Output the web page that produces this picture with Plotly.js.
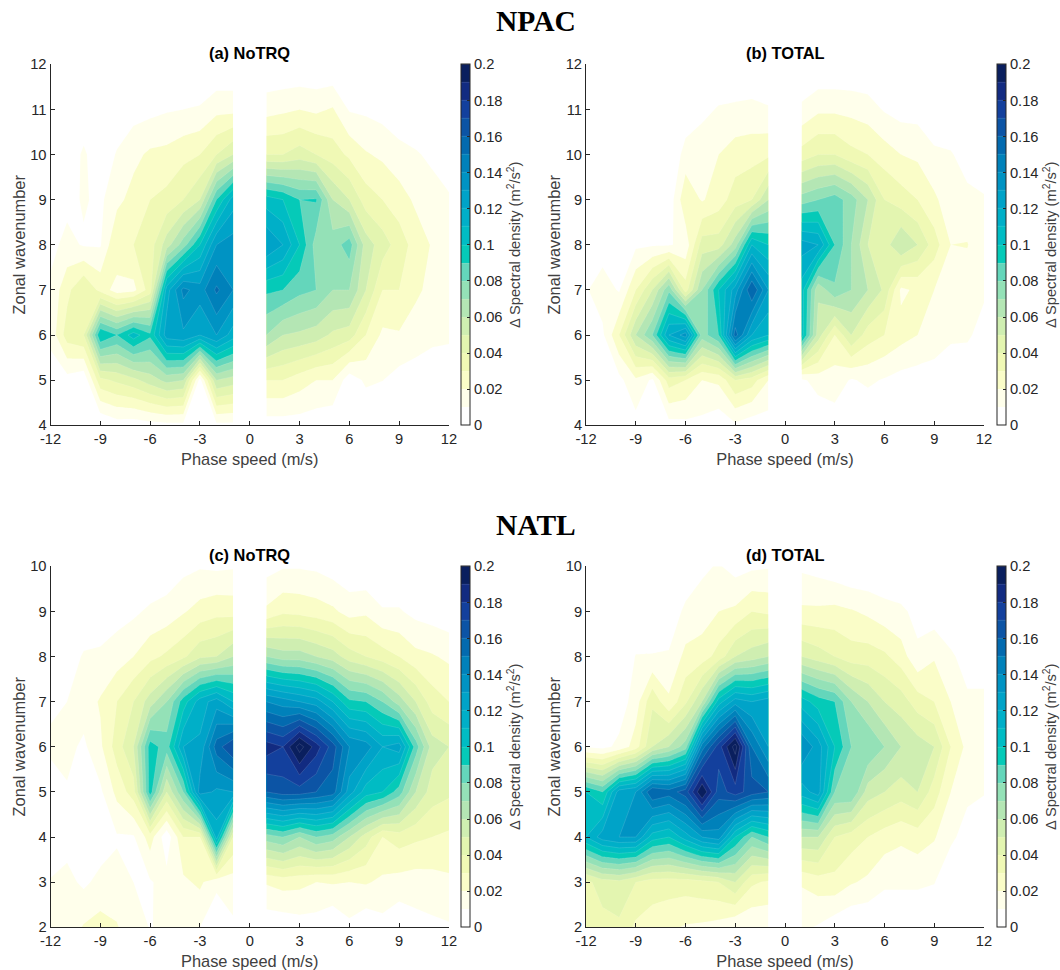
<!DOCTYPE html>
<html><head><meta charset="utf-8">
<script src="https://cdn.plot.ly/plotly-3.0.1.min.js"></script>
<style>html,body{margin:0;padding:0;background:#fff}#chart{width:1060px;height:970px}</style>
</head><body><div id="chart"></div>
<script>
// each row below is one phase-speed column: the values at successive wavenumbers
const speedsWest = [-12,-11,-10,-9,-8,-7,-6,-5,-4,-3,-2,-1];
const speedsEast = [1,2,3,4,5,6,7,8,9,10,11,12];
const waveNpac = [4,5,6,7,8,9,10,11,12];
const waveNatl = [2,3,4,5,6,7,8,9,10];
const levelColors = ['#ffffff','#ffffd9','#f6fbbb','#edf8b1','#dff3b0','#c9ecb2','#aee5b4','#8fe0b8','#5fd5bb','#00c9b8','#00bcc4','#00b0c8','#00a4c8','#0096c4','#0085bc','#0070b2','#0a5aa8','#10479f','#17339a','#0a1f5e','#0a1f5e'];
const barTicks = [0,0.02,0.04,0.06,0.08,0.1,0.12,0.14,0.16,0.18,0.2];
const speedTicks = [-12,-9,-6,-3,0,3,6,9,12];

const npacNoTRQ = [
[0,.004,.013,.012,.007,.003,0,0,0],
[0,.006,.035,.027,.013,.007,.002,0,0],
[0,.002,.04,.04,.009,.011,.012,.002,0],
[0,.037,.1,.027,.009,.008,.002,0,0],
[.005,.042,.09,.015,.03,.017,.011,.002,0],
[.004,.047,.105,.017,.03,.024,.017,.006,0],
[.006,.055,.092,.035,.035,.03,.022,.007,0],
[.007,.063,.125,.115,.055,.033,.023,.009,0],
[.007,.06,.128,.143,.075,.04,.027,.01,0],
[.003,.006,.12,.135,.1,.05,.03,.011,0],
[.007,.06,.13,.152,.13,.09,.04,.017,0],
[.007,.055,.115,.14,.135,.115,.05,.017,0],
[.005,.03,.07,.092,.13,.105,.04,.016,0],
[.005,.03,.06,.09,.12,.1,.04,.018,0],
[.005,.025,.058,.083,.1,.09,.045,.02,0],
[.004,.02,.055,.08,.075,.091,.04,.018,0],
[.002,.02,.048,.07,.075,.06,.035,.021,0],
[0,.004,.045,.07,.085,.05,.028,.009,0],
[0,.012,.03,.05,.055,.035,.021,.008,0],
[0,.0102,.018,.03,.045,.03,.018,.006,0],
[0,.006,.019,.03,.035,.025,.013,.004,0],
[0,.005,.015,.022,.026,.018,.011,.002,0],
[0,.002,.013,.017,.019,.014,.008,0,0],
[0,.002,.012,.018,.015,.011,.005,0,0]];

const npacTotal = [
[0,0,0,.009,0,0,0,0,0],
[0,0,.008,.015,.005,0,0,0,0],
[0,.007,.03,.009,.002,0,0,0,0],
[.006,.018,.06,.03,.008,0,0,0,0],
[0,.008,.08,.05,.009,0,0,0,0],
[.006,.035,.12,.078,.009,.003,0,0,0],
[.007,.03,.135,.035,.013,.028,.014,.003,0],
[.007,.02,.075,.07,.045,.019,.017,.007,0],
[.003,.022,.09,.1,.045,.025,.02,.011,0],
[.008,.04,.155,.125,.065,.035,.025,.012,0],
[.004,.035,.12,.16,.11,.04,.026,.013,0],
[.005,.02,.11,.13,.1,.06,.028,.011,0],
[0,.008,.105,.105,.125,.075,.034,.012,0],
[.002,.014,.055,.062,.12,.08,.04,.018,0],
[.005,.015,.03,.078,.09,.085,.04,.018,0],
[0,.009,.05,.07,.07,.075,.033,.017,0],
[0,.012,.035,.06,.05,.06,.03,.015,0],
[0,.009,.03,.048,.045,.04,.025,.009,0],
[0,.006,.024,.018,.06,.035,.02,.006,0],
[0,.005,.02,.022,.05,.03,.018,.006,0],
[0,.003,.018,.02,.035,.022,.012,.002,0],
[0,.002,.012,.014,.02,.014,.011,0,0],
[0,0,.012,.014,.0205,.013,.005,0,0],
[0,0,.005,.012,.012,.011,.003,0,0]];

const natlNoTRQ = [
[.012,.011,0,.002,.013,.007,0,0,0],
[.013,.013,.006,.009,.013,.01,.005,0,0],
[.021,.008,.001,.002,.008,.015,.011,.003,0],
[.024,.013,.004,.008,.018,.021,.012,.003,0],
[.021,.013,.009,.023,.035,.03,.015,.006,0],
[.012,.01,.009,.035,.05,.04,.02,.008,0],
[.0098,.009,.025,.095,.095,.055,.027,.012,0],
[.011,.014,.003,.05,.085,.07,.032,.014,.003],
[.012,.018,.03,.08,.12,.095,.038,.019,.007],
[.01,.022,.03,.135,.122,.115,.048,.024,.009],
[.002,.0125,.115,.128,.155,.125,.05,.027,.008],
[.0083,.015,.04,.13,.17,.11,.06,.026,.009],
[.0027,.021,.075,.16,.185,.14,.07,.022,.006],
[.003,.024,.08,.165,.18,.135,.065,.028,.009],
[.005,.023,.07,.165,.205,.13,.065,.027,.009],
[.005,.02,.08,.16,.185,.125,.06,.025,.008],
[0,.021,.075,.155,.165,.11,.055,.022,.005],
[.0075,.02,.06,.125,.14,.092,.045,.016,.002],
[.002,.021,.045,.105,.135,.09,.04,.018,.001],
[.0064,.018,.03,.1,.12,.08,.035,.011,0],
[.002,.016,.035,.085,.125,.065,.03,.011,0],
[.0064,.015,.032,.06,.085,.05,.023,.007,0],
[.0078,.016,.03,.045,.055,.035,.021,.005,0],
[.0089,.018,.028,.042,.05,.03,.018,.003,0]];

const natlTotal = [
[.03,.037,.11,.1,.009,0,0,0,0],
[.036,.045,.125,.09,.007,0,0,0,0],
[.038,.047,.13,.125,.0125,.004,0,0,0],
[.028,.04,.13,.13,.025,.015,.0105,0,0],
[.025,.035,.105,.16,.05,.038,.0105,.003,0],
[.022,.035,.1,.155,.06,.022,.011,.004,0],
[.019,.035,.115,.165,.075,.038,.023,.012,.003],
[.018,.037,.13,.2,.145,.06,.025,.015,.008],
[.016,.04,.135,.165,.175,.105,.034,.02,.011],
[.0105,.05,.1,.175,.205,.125,.05,.022,.006],
[.0105,.032,.08,.165,.15,.12,.055,.03,.008],
[.012,.028,.09,.16,.13,.125,.06,.028,.009],
[.012,.021,.06,.115,.14,.105,.05,.022,.008],
[.009,.025,.06,.125,.125,.095,.045,.022,.006],
[.0035,.027,.04,.08,.1,.09,.04,.023,.003],
[0,.021,.035,.08,.08,.07,.035,.021,0],
[0,.018,.03,.055,.08,.06,.035,.018,0],
[0,.012,.025,.05,.07,.05,.032,.014,0],
[0,.012,.022,.045,.06,.045,.025,.012,0],
[0,.012,.025,.05,.055,.035,.012,.007,0],
[0,.0105,.021,.035,.05,.03,.019,.004,0],
[0,.002,.012,.02,.03,.02,.012,0,0],
[0,0,.006,.012,.017,.012,.005,0,0],
[0,0,.004,.0105,.018,.012,.005,0,0]];

const W = 1060, H = 970;
const inkTick = '#262626', inkLabel = '#404040';
const scale = levelColors.map((c, i) => [i / 20, c]);

const panels = [
 {name:'(a) NoTRQ', cols:npacNoTRQ, wave:waveNpac, x0:50.5, x1:449, y0:64.3, y1:425.3, cb:461},
 {name:'(b) TOTAL', cols:npacTotal, wave:waveNpac, x0:586, x1:984, y0:64.3, y1:425.3, cb:997},
 {name:'(c) NoTRQ', cols:natlNoTRQ, wave:waveNatl, x0:50.5, x1:449, y0:566.3, y1:927.3, cb:461},
 {name:'(d) TOTAL', cols:natlTotal, wave:waveNatl, x0:586, x1:984, y0:566.3, y1:927.3, cb:997}
];
const traces = [];
const layout = {
  width:W, height:H, margin:{l:0,r:0,t:0,b:0}, paper_bgcolor:'#fff', plot_bgcolor:'#fff',
  showlegend:false, font:{family:'"Liberation Sans",Arial,sans-serif', size:14.7, color:inkTick},
  annotations:[
    {text:'<b>NPAC</b>', x:535.5/W, y:1-21/H, xref:'paper', yref:'paper', showarrow:false, xanchor:'center', yanchor:'middle', font:{family:'"Liberation Serif",serif', size:29.5, color:'#000'}},
    {text:'<b>NATL</b>', x:535.5/W, y:1-525/H, xref:'paper', yref:'paper', showarrow:false, xanchor:'center', yanchor:'middle', font:{family:'"Liberation Serif",serif', size:29.5, color:'#000'}}
  ]
};
panels.forEach((p, i) => {
  const n = i + 1, suffix = n === 1 ? '' : n;
  const common = {
    type:'contour', y:p.wave, transpose:true, zmin:0, zmax:0.2, autocontour:false, autocolorscale:false,
    contours:{coloring:'fill', start:0.01, end:0.2, size:0.01, showlines:true},
    line:{color:'rgba(255,255,255,0.22)', width:0.6, smoothing:0},
    colorscale:scale, xaxis:'x'+suffix, yaxis:'y'+suffix, hoverinfo:'skip'
  };
  traces.push(Object.assign({}, common, {
    x:speedsWest, z:p.cols.slice(0,12), showscale:true,
    colorbar:{
      x:p.cb/W, xanchor:'left', xpad:0, ypad:0, thicknessmode:'pixels', thickness:9, lenmode:'fraction',
      len:(p.y1-p.y0)/H, y:1-(p.y0+p.y1)/2/H, yanchor:'middle',
      outlinecolor:inkTick, outlinewidth:1, tickmode:'array', tickvals:barTicks, ticktext:barTicks.map(String),
      ticks:'inside', ticklen:3, tickcolor:inkTick, tickfont:{size:14.7,color:inkTick},
      title:{text:'Δ Spectral density (m<sup>2</sup>/s<sup>2</sup>)', side:'right', font:{size:14.7,color:inkLabel}}
    }
  }));
  traces.push(Object.assign({}, common, {x:speedsEast, z:p.cols.slice(12), showscale:false}));
  layout['xaxis'+suffix] = {
    domain:[p.x0/W,p.x1/W], range:[-12,12], anchor:'y'+suffix, tickmode:'array', tickvals:speedTicks,
    ticktext:speedTicks.map(String), ticks:'inside', ticklen:4, tickcolor:inkTick, showline:true, linecolor:inkTick, linewidth:1,
    showgrid:false, zeroline:false, layer:'above traces', tickfont:{size:14.7,color:inkTick},
    title:{text:'Phase speed (m/s)', standoff:7, font:{size:16.4,color:inkLabel}}, automargin:false
  };
  layout['yaxis'+suffix] = {
    domain:[1-p.y1/H,1-p.y0/H], range:[p.wave[0],p.wave[8]], anchor:'x'+suffix, tickmode:'array', tickvals:p.wave,
    ticktext:p.wave.map(String), ticks:'inside', ticklen:4, tickcolor:inkTick, showline:true, linecolor:inkTick, linewidth:1,
    showgrid:false, zeroline:false, layer:'above traces', tickfont:{size:14.7,color:inkTick},
    title:{text:'Zonal wavenumber', standoff:0, font:{size:16.4,color:inkLabel}}, automargin:false
  };
  layout.annotations.push({text:'<b>'+p.name+'</b>', x:(p.x0+p.x1)/2/W, y:1-(p.y0-11)/H, xref:'paper', yref:'paper', showarrow:false, xanchor:'center', yanchor:'middle', font:{size:16.4,color:'#000'}});
});
Plotly.newPlot('chart', traces, layout, {displayModeBar:false, staticPlot:true});
</script></body></html>
